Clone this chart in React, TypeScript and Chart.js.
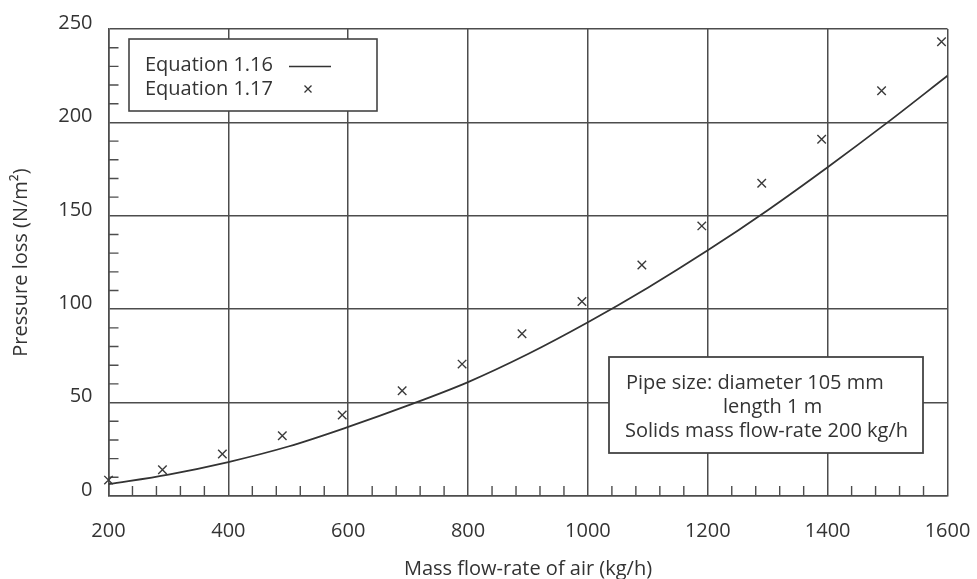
import React, { useEffect, useRef } from "react";
import { Chart, registerables } from "chart.js";

Chart.register(...registerables);

// ---- Data ----
const curveX = [200, 300, 400, 500, 600, 700, 800, 900, 1000, 1100, 1200, 1300, 1400, 1500, 1600];
const curveY = [6.3, 11.5, 18.2, 26.5, 37, 48.5, 61, 76, 93, 111.5, 131.5, 153, 176, 200, 225];

const crossX = [200, 290, 390, 490, 590, 690, 790, 890, 990, 1090, 1190, 1290, 1390, 1490, 1590];
const crossY = [8.5, 14, 22.5, 32.3, 43.4, 56.3, 70.6, 86.8, 104.1, 123.7, 144.6, 167.4, 191, 216.9, 243.2];

const xMin = 200;
const xMax = 1600;
const xStep = 200;
const xMinorStep = 40;
const yMin = 0;
const yMax = 250;
const yStep = 50;
const yMinorStep = 10;

const xTitle = "Mass flow-rate of air (kg/h)";
const yTitle = "Pressure loss (N/m\u00B2)";
const legendLabels = ["Equation 1.16", "Equation 1.17"];
const noteLines = ["Pipe size: diameter 105 mm", "length 1 m", "Solids mass flow-rate 200 kg/h"];

const FONT = "'Open Sans', sans-serif";
const FS = 20;
const INK = "#333333";
const GRID = "#4d4d4d";

const minorTicks = {
  id: "minorTicks",
  beforeDatasetsDraw(chart: any) {
    const { ctx, chartArea, scales } = chart;
    const xs = scales.x;
    const ys = scales.y;
    ctx.save();
    ctx.strokeStyle = GRID;
    ctx.lineWidth = 1.4;
    ctx.beginPath();
    for (let v = yMin; v <= yMax; v += yMinorStep) {
      if (v % yStep === 0) continue;
      const py = ys.getPixelForValue(v);
      ctx.moveTo(chartArea.left, py);
      ctx.lineTo(chartArea.left + 10, py);
    }
    for (let v = xMin; v <= xMax; v += xMinorStep) {
      if ((v - xMin) % xStep === 0) continue;
      const px = xs.getPixelForValue(v);
      ctx.moveTo(px, chartArea.bottom);
      ctx.lineTo(px, chartArea.bottom - 10);
    }
    ctx.stroke();
    ctx.restore();
  },
};

const boxes = {
  id: "boxes",
  afterDatasetsDraw(chart: any) {
    const { ctx } = chart;
    ctx.save();
    // Legend box
    ctx.fillStyle = "#ffffff";
    ctx.strokeStyle = "#444";
    ctx.lineWidth = 1.6;
    ctx.fillRect(129, 39, 248, 72);
    ctx.strokeRect(129, 39, 248, 72);
    ctx.fillStyle = INK;
    ctx.font = `${FS}px ${FONT}`;
    ctx.textBaseline = "middle";
    ctx.textAlign = "left";
    ctx.fillText(legendLabels[0], 145, 65);
    ctx.fillText(legendLabels[1], 145, 89);
    ctx.strokeStyle = "#333";
    ctx.lineWidth = 1.6;
    ctx.beginPath();
    ctx.moveTo(289, 66.5);
    ctx.lineTo(331, 66.5);
    ctx.stroke();
    ctx.lineWidth = 1.3;
    ctx.beginPath();
    ctx.moveTo(304.5, 85.5);
    ctx.lineTo(311.5, 92.5);
    ctx.moveTo(311.5, 85.5);
    ctx.lineTo(304.5, 92.5);
    ctx.stroke();

    // Note box
    ctx.fillStyle = "#ffffff";
    ctx.strokeStyle = "#444";
    ctx.lineWidth = 1.8;
    ctx.fillRect(609, 357, 314, 96);
    ctx.strokeRect(609, 357, 314, 96);
    ctx.fillStyle = INK;
    ctx.font = `${FS}px ${FONT}`;
    ctx.fillText(noteLines[0], 626, 383);
    ctx.fillText(noteLines[1], 723, 407);
    ctx.fillText(noteLines[2], 625, 431);
    ctx.restore();
  },
};

export default function App() {
  const ref = useRef<HTMLCanvasElement | null>(null);

  useEffect(() => {
    if (!ref.current) return;
    const chart = new Chart(ref.current, {
      type: "scatter",
      data: {
        datasets: [
          {
            type: "line",
            label: legendLabels[0],
            data: curveX.map((x, i) => ({ x, y: curveY[i] })),
            borderColor: "#333",
            borderWidth: 1.8,
            pointRadius: 0,
            cubicInterpolationMode: "monotone",
            fill: false,
          } as any,
          {
            type: "scatter",
            label: legendLabels[1],
            data: crossX.map((x, i) => ({ x, y: crossY[i] })),
            pointStyle: "crossRot",
            pointRadius: 6,
            pointBorderWidth: 1.4,
            borderColor: "#3a3a3a",
            backgroundColor: "#3a3a3a",
            showLine: false,
            clip: false,
          } as any,
        ],
      },
      options: {
        responsive: false,
        animation: false,
        layout: { autoPadding: false, padding: { left: 0, right: 29.5, top: 29, bottom: 0 } },
        plugins: {
          legend: { display: false },
          tooltip: { enabled: false },
        },
        scales: {
          x: {
            type: "linear",
            min: xMin,
            max: xMax,
            afterFit: (s: any) => {
              s.height = 83;
              s.paddingLeft = 0;
              s.paddingRight = 0;
            },
            ticks: {
              stepSize: xStep,
              padding: 23,
              color: INK,
              font: { family: FONT, size: FS },
              callback: (v: any) => String(v),
            },
            grid: { color: GRID, lineWidth: 1.5, drawTicks: false },
            border: { color: GRID, width: 1.6 },
            title: {
              display: true,
              text: xTitle,
              color: INK,
              font: { family: FONT, size: FS, lineHeight: 1 },
              padding: { top: 0, bottom: 0 },
            },
          },
          y: {
            type: "linear",
            min: yMin,
            max: yMax,
            afterFit: (s: any) => {
              s.width = 108.5;
              s.paddingTop = 0;
              s.paddingBottom = 0;
            },
            ticks: {
              stepSize: yStep,
              padding: 16,
              labelOffset: -6,
              color: INK,
              font: { family: FONT, size: FS },
              callback: (v: any) => String(v),
            },
            grid: { color: GRID, lineWidth: 1.5, drawTicks: false },
            border: { color: GRID, width: 1.6 },
            title: {
              display: true,
              text: yTitle,
              color: INK,
              font: { family: FONT, size: FS, lineHeight: 1 },
              padding: { top: 11, bottom: 0 },
            },
          },
        },
      },
      plugins: [minorTicks, boxes],
    } as any);
    return () => chart.destroy();
  }, []);

  return (
    <div style={{ position: "fixed", left: 0, top: 0, width: 977, height: 579, background: "#fff" }}>
      <canvas ref={ref} width={977} height={579} style={{ display: "block" }} />
    </div>
  );
}
